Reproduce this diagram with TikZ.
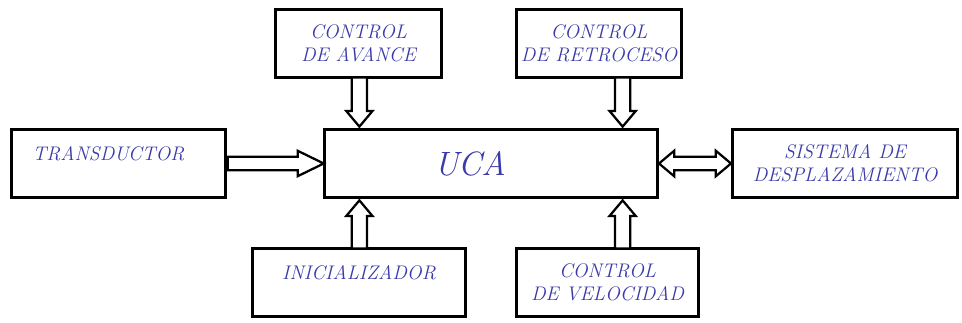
\documentclass[tikz,border=0pt]{standalone}
\usetikzlibrary{calc,positioning,shapes.arrows}
\definecolor{textoazul}{RGB}{58,58,168}

\begin{document}
\begin{tikzpicture}[
  bloque/.style={draw, line width=1.6pt, fill=white, minimum height=1.7cm,
                 font=\fontsize{14}{16.5}\selectfont\itshape, text=textoazul,
                 align=center, inner sep=0pt},
  flecha/.style={single arrow, draw, line width=1.6pt, fill=white, inner sep=0pt,
                 text height=0.32cm, text depth=0pt, single arrow head extend=0.14cm},
  dflecha/.style={double arrow, draw, line width=1.6pt, fill=white, inner sep=0pt,
                  text height=0.28cm, text depth=0pt, double arrow head extend=0.15cm,
                  double arrow tip angle=80}
]
\useasboundingbox (0,0) rectangle (24.05,8.05);

% Bloques
\node[bloque, minimum width=8.325cm] (uca) at (12.275,3.9625)
  {\fontsize{24}{24}\selectfont UCA\hspace*{1.05cm}};
\node[bloque, minimum width=4.15cm]  (avance)    at (8.9625,6.9625) {CONTROL\\DE AVANCE};
\node[bloque, minimum width=4.125cm] (retroceso) at (14.975,6.9625) {CONTROL\\DE RETROCESO};
\node[bloque, minimum width=5.35cm, text depth=0.5cm] (transductor) at (2.9625,3.9625)
  {TRANSDUCTOR\hspace*{0.5cm}};
\node[bloque, minimum width=5.625cm] (sistema) at (21.125,3.9625) {SISTEMA DE\\DESPLAZAMIENTO};
\node[bloque, minimum width=5.325cm, text depth=0.5cm] (inicializador) at (8.975,0.9875)
  {INICIALIZADOR};
\node[bloque, minimum width=4.55cm] (velocidad) at (15.1875,0.9875) {CONTROL\\DE VELOCIDAD};

% Flechas verticales
\node[flecha, rotate=-90, minimum height=1.225cm, single arrow tip angle=80, anchor=tip]
  (f1) at ($(uca.north west)+(0.9,0)$) {};
\node[flecha, rotate=-90, minimum height=1.225cm, single arrow tip angle=80, anchor=tip]
  (f2) at ($(uca.north east)+(-0.9,0)$) {};
\node[flecha, rotate=90, minimum height=1.2cm, single arrow tip angle=80, anchor=tip]
  (f3) at ($(uca.south west)+(0.9,0)$) {};
\node[flecha, rotate=90, minimum height=1.2cm, single arrow tip angle=80, anchor=tip]
  (f4) at ($(uca.south east)+(-0.9,0)$) {};

% Flechas horizontales
\node[flecha, text height=0.28cm, minimum height=2.4cm, single arrow tip angle=52,
  single arrow head extend=0.15cm, anchor=tail] (f5) at (transductor.east) {};
\node[dflecha, minimum height=1.8cm] (f6) at ($(uca.east)!0.5!(sistema.west)$) {};

\end{tikzpicture}
\end{document}
